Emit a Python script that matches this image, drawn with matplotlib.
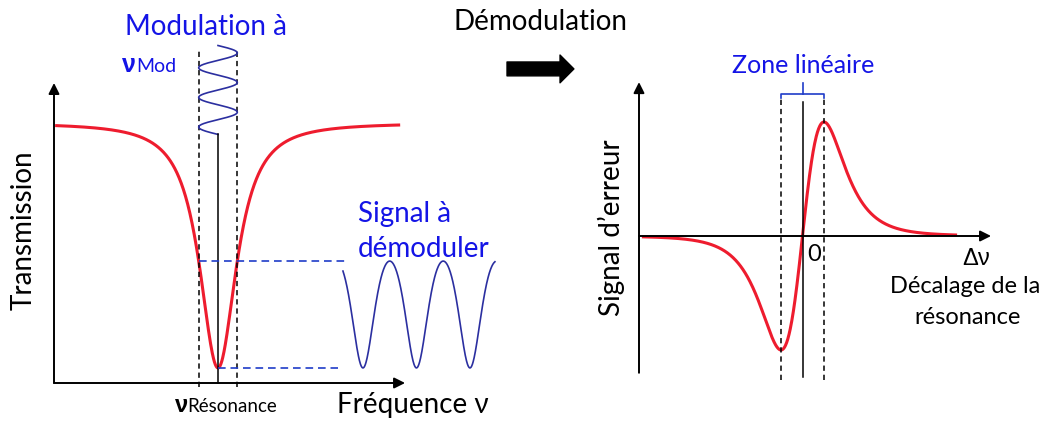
import numpy as np
import matplotlib.pyplot as plt

plt.rcParams['font.family'] = ['Lato', 'Liberation Sans', 'DejaVu Sans']
plt.rcParams['lines.scale_dashes'] = False

# --- left panel: cavity transmission dip (frequency in arbitrary units, resonance at 0)
trans_span = [-4.64, 5.19]      # extent of the red transmission curve
trans_depth = 0.942             # depth of the dip (baseline = 1)
trans_gamma = 0.703             # width parameter of the dip
trans_power = 1.2               # slightly sharper tails than a pure lorentzian
mod_depth = 0.55                # modulation excursion around resonance
mod_span = [0.956, 1.298]       # vertical extent of the modulation drawing (transmission units)
mod_periods = 3
demod_span = [3.56, 7.89]       # "time" axis of the signal to demodulate
demod_first_min = 4.13
demod_spacing = 1.524

# --- right panel: error signal (detuning in units of the linear zone half width)
err_span = [-7.47, 7.19]
err_amp = 1.0

RED = '#ee1c2e'
BLUE_TXT = '#1414e6'
BLUE_LINE = '#2b2fa0'
BLUE_DASH = '#1f3cc8'
GREEK = ['Liberation Sans', 'DejaVu Sans']


def transmission(nu):
    return 1 - trans_depth / (1 + (nu / trans_gamma) ** 2) ** trans_power


def error_signal(d):
    a = np.sqrt(5)
    s = d / (1 + (d / a) ** 2) ** 3
    return err_amp * s / (1 / (1 + 1 / 5) ** 3)


fig = plt.figure(figsize=(10.49, 4.21), dpi=100)
W, H = 1049, 421

# left axes: px x 0..620, 1 unit = 35.1 px, resonance at px 218; T=0 at py 383, 1 unit = 260 px
axl = fig.add_axes([0, 0, 620 / W, 1])
axl.set_xlim((0 - 218) / 35.1, (620 - 218) / 35.1)
axl.set_ylim((383 - 421) / 260, 383 / 260)
axl.axis('off')

# right axes: px x 560..1049, 1 unit = 21.5 px, zero at px 802.5; 0 at py 236, 1 unit = 114 px
axr = fig.add_axes([560 / W, 0, (W - 560) / W, 1])
axr.set_xlim((560 - 802.5) / 21.5, (W - 802.5) / 21.5)
axr.set_ylim((236 - 421) / 114, 236 / 114)
axr.axis('off')

arrow = dict(arrowstyle='-|>', color='black', lw=1.4, mutation_scale=16,
             shrinkA=0, shrinkB=0)

# ---------------- left panel
x_axis_l = (54 - 218) / 35.1
axl.annotate('', xy=(x_axis_l, 1.154), xytext=(x_axis_l, 0), arrowprops=arrow)
axl.annotate('', xy=(5.33, 0), xytext=(x_axis_l, 0), arrowprops=arrow)

nu = np.linspace(trans_span[0], trans_span[1], 800)
axl.plot(nu, transmission(nu), color=RED, lw=2.2, solid_capstyle='butt')

for xv in (-mod_depth, mod_depth):
    axl.plot([xv, xv], [-0.015, 1.281], color='black', lw=1.1, dashes=(3.8, 2.8))

tm = np.linspace(mod_span[1], mod_span[0], 400)
period = (mod_span[1] - mod_span[0]) / mod_periods
axl.plot(mod_depth * np.sin(2 * np.pi * (mod_span[1] - tm) / period), tm,
         color=BLUE_LINE, lw=1.2)
axl.plot([0, 0], [0, mod_span[0]], color='black', lw=1.1)

t_hi = transmission(mod_depth)
t_lo = transmission(0)
axl.plot([-mod_depth, 3.62], [t_hi, t_hi], color=BLUE_DASH, lw=1.2, dashes=(5.5, 3.5))
axl.plot([0, 3.42], [t_lo, t_lo], color=BLUE_DASH, lw=1.2, dashes=(5.5, 3.5))

t = np.linspace(demod_span[0], demod_span[1], 600)
axl.plot(t, transmission(mod_depth * np.sin(np.pi * (t - demod_first_min) / demod_spacing)),
         color=BLUE_LINE, lw=1.2)

axl.text(-2.65, 1.338, 'Modulation à', color=BLUE_TXT, fontsize=20, va='baseline')
axl.text(-2.74, 1.196, 'ν', color=BLUE_TXT, fontsize=18, fontweight='bold',
         va='baseline', family=GREEK)
axl.text(-2.336, 1.196, 'Mod', color=BLUE_TXT, fontsize=14, va='baseline')
axl.text(-5.527, 0.588, 'Transmission', fontsize=20, rotation=90, ha='center', va='center')
axl.text(-1.23, -0.1115, 'ν', fontsize=17, fontweight='bold', va='baseline', family=GREEK)
axl.text(-0.883, -0.1115, 'Résonance', fontsize=13.5, va='baseline')
axl.text(3.39, -0.1154, 'Fréquence ν', fontsize=20, va='baseline')
axl.text(3.99, 0.619, 'Signal à', color=BLUE_TXT, fontsize=20, va='baseline')
axl.text(3.99, 0.485, 'démoduler', color=BLUE_TXT, fontsize=20, va='baseline')
axl.text(6.72, (383 - 30) / 260, 'Démodulation', fontsize=20, va='baseline')

axl.annotate('', xy=(10.14, 1.208), xytext=(8.234, 1.208),
             arrowprops=dict(arrowstyle='simple,head_length=1.0,head_width=2.0,tail_width=1.0',
                             color='black', mutation_scale=10, shrinkA=0, shrinkB=0))

# ---------------- right panel
x_axis_r = (639 - 802.5) / 21.5
axr.annotate('', xy=(x_axis_r, 1.35), xytext=(x_axis_r, -1.20), arrowprops=arrow)
axr.annotate('', xy=(8.77, 0), xytext=(x_axis_r, 0), arrowprops=arrow)

d = np.linspace(err_span[0], err_span[1], 800)
axr.plot(d, error_signal(d), color=RED, lw=2.2, solid_capstyle='butt')

for xv in (-1, 1):
    axr.plot([xv, xv], [-1.26, 1.22], color='black', lw=1.1, dashes=(3.8, 2.8))
axr.plot([0, 0], [-1.237, 1.175], color='black', lw=1.1)

axr.plot([-1, -1, 1, 1], [1.21, 1.246, 1.246, 1.21], color=BLUE_DASH, lw=1.2)
axr.plot([0, 0], [1.246, 1.342], color=BLUE_DASH, lw=1.2)

axr.text(0.02, 1.43, 'Zone linéaire', color=BLUE_TXT, fontsize=18, ha='center', va='baseline')
axr.text(-8.907, 0.07, 'Signal d’erreur', fontsize=20, rotation=90, ha='center', va='center')
axr.text(0.21, -0.158, '0', fontsize=17, va='center')
axr.text(8.07, -0.20, 'Δν', fontsize=17, ha='center', va='center', family=GREEK)
axr.text(7.56, -0.447, 'Décalage de la', fontsize=17, ha='center', va='center')
axr.text(7.70, -0.719, 'résonance', fontsize=17, ha='center', va='center')

fig.savefig('out.png', dpi=100)
